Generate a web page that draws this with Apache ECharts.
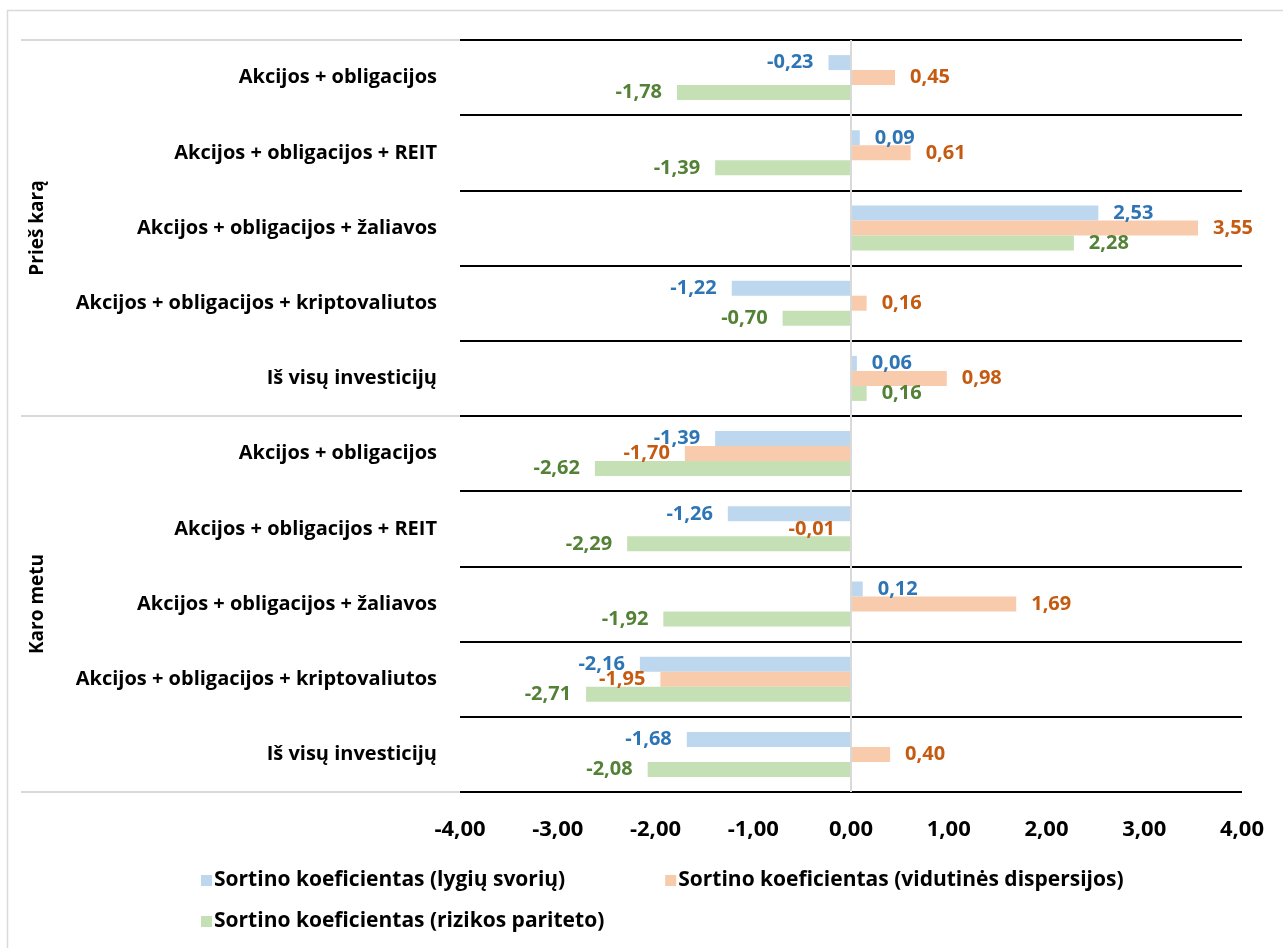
<!DOCTYPE html>
<html>
<head>
<meta charset="utf-8">
<title>Sortino koeficientai</title>
<script src="https://cdn.jsdelivr.net/npm/echarts@6/dist/echarts.min.js"></script>
<style>
  html, body { margin: 0; padding: 0; background: #fff; }
  #chart { width: 1283px; height: 948px; }
</style>
</head>
<body>
<div id="chart"></div>
<script>
// Portfolio combinations, top to bottom
const categories = [
  'Akcijos + obligacijos',
  'Akcijos + obligacijos + REIT',
  'Akcijos + obligacijos + žaliavos',
  'Akcijos + obligacijos + kriptovaliutos',
  'Iš visų investicijų',
  'Akcijos + obligacijos',
  'Akcijos + obligacijos + REIT',
  'Akcijos + obligacijos + žaliavos',
  'Akcijos + obligacijos + kriptovaliutos',
  'Iš visų investicijų'
];
// Period groups (each covers five rows)
const periods = ['Prieš karą', 'Karo metu'];

const seriesNames = [
  'Sortino koeficientas (lygių svorių)',
  'Sortino koeficientas (vidutinės dispersijos)',
  'Sortino koeficientas (rizikos pariteto)'
];
const equalWeight  = [-0.23, 0.09, 2.53, -1.22, 0.06, -1.39, -1.26, 0.12, -2.16, -1.68];
const minVariance  = [ 0.45, 0.61, 3.55,  0.16, 0.98, -1.70, -0.01, 1.69, -1.95,  0.40];
const riskParity   = [-1.78, -1.39, 2.28, -0.70, 0.16, -2.62, -2.29, -1.92, -2.71, -2.08];

const xTicks = { min: -4, max: 4, step: 1 };

const FONT = '"Open Sans", "Noto Sans", sans-serif';
const fillColors  = ['#BDD7EE', '#F8CBAD', '#C5E0B4'];
const labelColors = ['#2E75B6', '#C55A11', '#538135'];

const fmt = v => v.toFixed(2).replace('.', ',');

function makeSeries(name, values, idx) {
  const s = {
    name: name,
    type: 'bar',
    barWidth: 15,
    barGap: '0%',
    itemStyle: { color: fillColors[idx] },
    label: {
      show: true,
      color: labelColors[idx],
      fontFamily: FONT,
      fontWeight: 'bold',
      fontSize: 20,
      distance: 15,
      formatter: p => fmt(p.value)
    },
    data: values.map(v => ({
      value: v,
      label: { position: v < 0 ? 'left' : 'right' }
    }))
  };
  if (idx === 0) {
    // vertical reference line at zero
    s.markLine = {
      silent: true,
      symbol: ['none', 'none'],
      label: { show: false },
      lineStyle: { color: '#D9D9D9', width: 2, type: 'solid' },
      data: [{ xAxis: 0 }],
      z: 10
    };
  }
  return s;
}

const chart = echarts.init(document.getElementById('chart'), null, { renderer: 'canvas' });

const legendText = { fontFamily: FONT, fontWeight: 'bold', fontSize: 21, color: '#000', padding: [0, 0, 0, -3] };

chart.setOption({
  backgroundColor: '#ffffff',
  animation: false,
  textStyle: { fontFamily: FONT },
  graphic: [{
    type: 'rect',
    silent: true,
    shape: { x: 7.5, y: 10.5, width: 1300, height: 960 },
    style: { fill: 'none', stroke: '#D9D9D9', lineWidth: 1.5 }
  }],
  grid: { left: 460, right: 41, top: 40, bottom: 156, containLabel: false },
  legend: [
    {
      data: seriesNames.slice(0, 2),
      left: 196, top: 865,
      icon: 'rect', itemWidth: 11, itemHeight: 11, itemGap: 100,
      textStyle: legendText
    },
    {
      data: seriesNames.slice(2),
      left: 196, top: 906,
      icon: 'rect', itemWidth: 11, itemHeight: 11,
      textStyle: legendText
    }
  ],
  xAxis: {
    type: 'value',
    min: xTicks.min, max: xTicks.max, interval: xTicks.step,
    axisLine: { show: false },
    axisTick: { show: false },
    splitLine: { show: false },
    axisLabel: {
      margin: 27,
      color: '#000',
      fontFamily: FONT, fontWeight: 'bold', fontSize: 22,
      formatter: v => fmt(v)
    }
  },
  yAxis: [
    {
      type: 'category',
      data: categories,
      inverse: true,
      axisLine: { show: false },
      axisTick: { show: false },
      splitLine: { show: true, lineStyle: { color: '#000', width: 2 } },
      axisLabel: {
        margin: 23,
        color: '#000',
        fontFamily: FONT, fontWeight: 'bold', fontSize: 20,
        interval: 0
      }
    },
    {
      type: 'category',
      data: periods,
      inverse: true,
      position: 'left',
      offset: 439,
      axisLine: { show: false },
      axisTick: {
        show: true, inside: true, length: 439,
        lineStyle: { color: '#D9D9D9', width: 2 }
      },
      splitLine: { show: false },
      axisLabel: {
        inside: true,
        rotate: 90,
        margin: 7,
        align: 'center',
        verticalAlign: 'top',
        color: '#000',
        fontFamily: FONT, fontWeight: 'bold', fontSize: 19
      }
    }
  ],
  series: [
    makeSeries(seriesNames[0], equalWeight, 0),
    makeSeries(seriesNames[1], minVariance, 1),
    makeSeries(seriesNames[2], riskParity, 2)
  ]
});
</script>
</body>
</html>
